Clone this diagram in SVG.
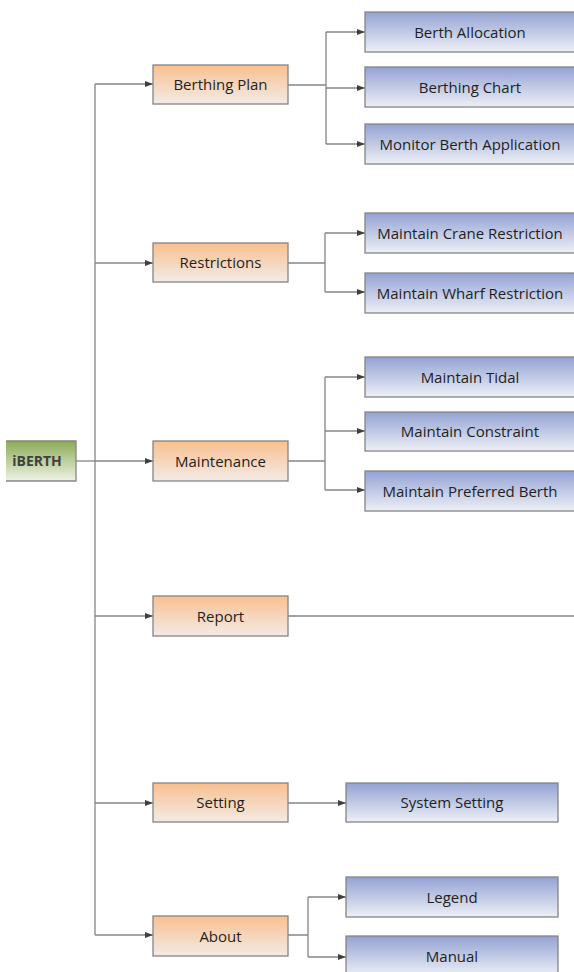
<svg xmlns="http://www.w3.org/2000/svg" width="574" height="972" viewBox="0 0 574 972">
<defs>
<linearGradient id="gOr" x1="0" y1="0" x2="0" y2="1">
<stop offset="0" stop-color="#f8c08f"/>
<stop offset="1" stop-color="#f3ebe6"/>
</linearGradient>
<linearGradient id="gBl" x1="0" y1="0" x2="0" y2="1">
<stop offset="0" stop-color="#93a2d3"/>
<stop offset="1" stop-color="#eef0f6"/>
</linearGradient>
<linearGradient id="gGr" x1="0" y1="0" x2="0" y2="1">
<stop offset="0" stop-color="#8cab58"/>
<stop offset="1" stop-color="#eef2e6"/>
</linearGradient>
<marker id="arr" viewBox="0 0 8 8" refX="8" refY="4" markerWidth="8" markerHeight="8" markerUnits="userSpaceOnUse" orient="auto">
<path d="M0,1 L8,4 L0,7 Z" fill="#404040"/>
</marker>
</defs>
<style>
.or{fill:url(#gOr);stroke:#858585;stroke-width:1.3}
.bl{fill:url(#gBl);stroke:#858585;stroke-width:1.3}
.gr{fill:url(#gGr)}
.edge{fill:none;stroke:#858585;stroke-width:1.3}
.t{font-family:"Open Sans","Liberation Sans",Arial,sans-serif;font-size:15px;fill:#1f1f1f;text-anchor:middle}
</style>
<rect width="574" height="972" fill="#ffffff"/>
<g id="connectors" class="edge">
<path d="M95 84 V935"/>
<path d="M76 461 H95"/>
<path d="M95 84 H153" marker-end="url(#arr)"/>
<path d="M95 263 H153" marker-end="url(#arr)"/>
<path d="M95 461 H153" marker-end="url(#arr)"/>
<path d="M95 616 H153" marker-end="url(#arr)"/>
<path d="M95 803 H153" marker-end="url(#arr)"/>
<path d="M95 935 H153" marker-end="url(#arr)"/>
<path d="M288 85 H326 M326 32 V144"/>
<path d="M326 32 H365" marker-end="url(#arr)"/>
<path d="M326 88 H365" marker-end="url(#arr)"/>
<path d="M326 144 H365" marker-end="url(#arr)"/>
<path d="M288 263 H325 M325 233 V292"/>
<path d="M325 233 H365" marker-end="url(#arr)"/>
<path d="M325 292 H365" marker-end="url(#arr)"/>
<path d="M288 461 H325 M325 377 V490"/>
<path d="M325 377 H365" marker-end="url(#arr)"/>
<path d="M325 431 H365" marker-end="url(#arr)"/>
<path d="M325 490 H365" marker-end="url(#arr)"/>
<path d="M288 616 H574"/>
<path d="M288 803 H346" marker-end="url(#arr)"/>
<path d="M288 935 H308 M308 897 V957"/>
<path d="M308 897 H346" marker-end="url(#arr)"/>
<path d="M308 957 H346" marker-end="url(#arr)"/>
</g>
<g id="iberth">
<rect class="gr" x="6" y="441" width="70" height="40"/>
<path class="edge" d="M6 441 H76 V481 H6"/>
<text class="t" x="37" y="466" font-weight="bold" style="fill:#404040;font-size:14px">iBERTH</text>
</g>
<g id="berthing-plan"><rect class="or" x="153" y="65" width="135" height="39"/><text class="t" x="220.5" y="89.5">Berthing Plan</text></g>
<g id="restrictions"><rect class="or" x="153" y="243" width="135" height="39"/><text class="t" x="220.5" y="267.5">Restrictions</text></g>
<g id="maintenance"><rect class="or" x="153" y="441" width="135" height="40"/><text class="t" x="220.5" y="466.5">Maintenance</text></g>
<g id="report"><rect class="or" x="153" y="596" width="135" height="40"/><text class="t" x="220.5" y="621.5">Report</text></g>
<g id="setting"><rect class="or" x="153" y="783" width="135" height="39"/><text class="t" x="220.5" y="808">Setting</text></g>
<g id="about"><rect class="or" x="153" y="916" width="135" height="40"/><text class="t" x="220.5" y="941.5">About</text></g>
<g id="berth-allocation"><rect class="bl" x="365" y="12" width="212" height="40"/><text class="t" x="470" y="37.5">Berth Allocation</text></g>
<g id="berthing-chart"><rect class="bl" x="365" y="67" width="212" height="40"/><text class="t" x="470" y="92.5">Berthing Chart</text></g>
<g id="monitor-berth-application"><rect class="bl" x="365" y="124" width="212" height="40"/><text class="t" x="470" y="149.5">Monitor Berth Application</text></g>
<g id="maintain-crane-restriction"><rect class="bl" x="365" y="213" width="212" height="40"/><text class="t" x="470" y="238.5">Maintain Crane Restriction</text></g>
<g id="maintain-wharf-restriction"><rect class="bl" x="365" y="273" width="212" height="40"/><text class="t" x="470" y="298.5">Maintain Wharf Restriction</text></g>
<g id="maintain-tidal"><rect class="bl" x="365" y="357" width="212" height="40"/><text class="t" x="470" y="382.5">Maintain Tidal</text></g>
<g id="maintain-constraint"><rect class="bl" x="365" y="412" width="212" height="39"/><text class="t" x="470" y="436.5">Maintain Constraint</text></g>
<g id="maintain-preferred-berth"><rect class="bl" x="365" y="471" width="212" height="40"/><text class="t" x="470" y="496.5">Maintain Preferred Berth</text></g>
<g id="system-setting"><rect class="bl" x="346" y="783" width="212" height="39"/><text class="t" x="452" y="808">System Setting</text></g>
<g id="legend"><rect class="bl" x="346" y="877" width="212" height="40"/><text class="t" x="452" y="902.5">Legend</text></g>
<g id="manual"><rect class="bl" x="346" y="936" width="212" height="40"/><text class="t" x="452" y="961.5">Manual</text></g>
</svg>
